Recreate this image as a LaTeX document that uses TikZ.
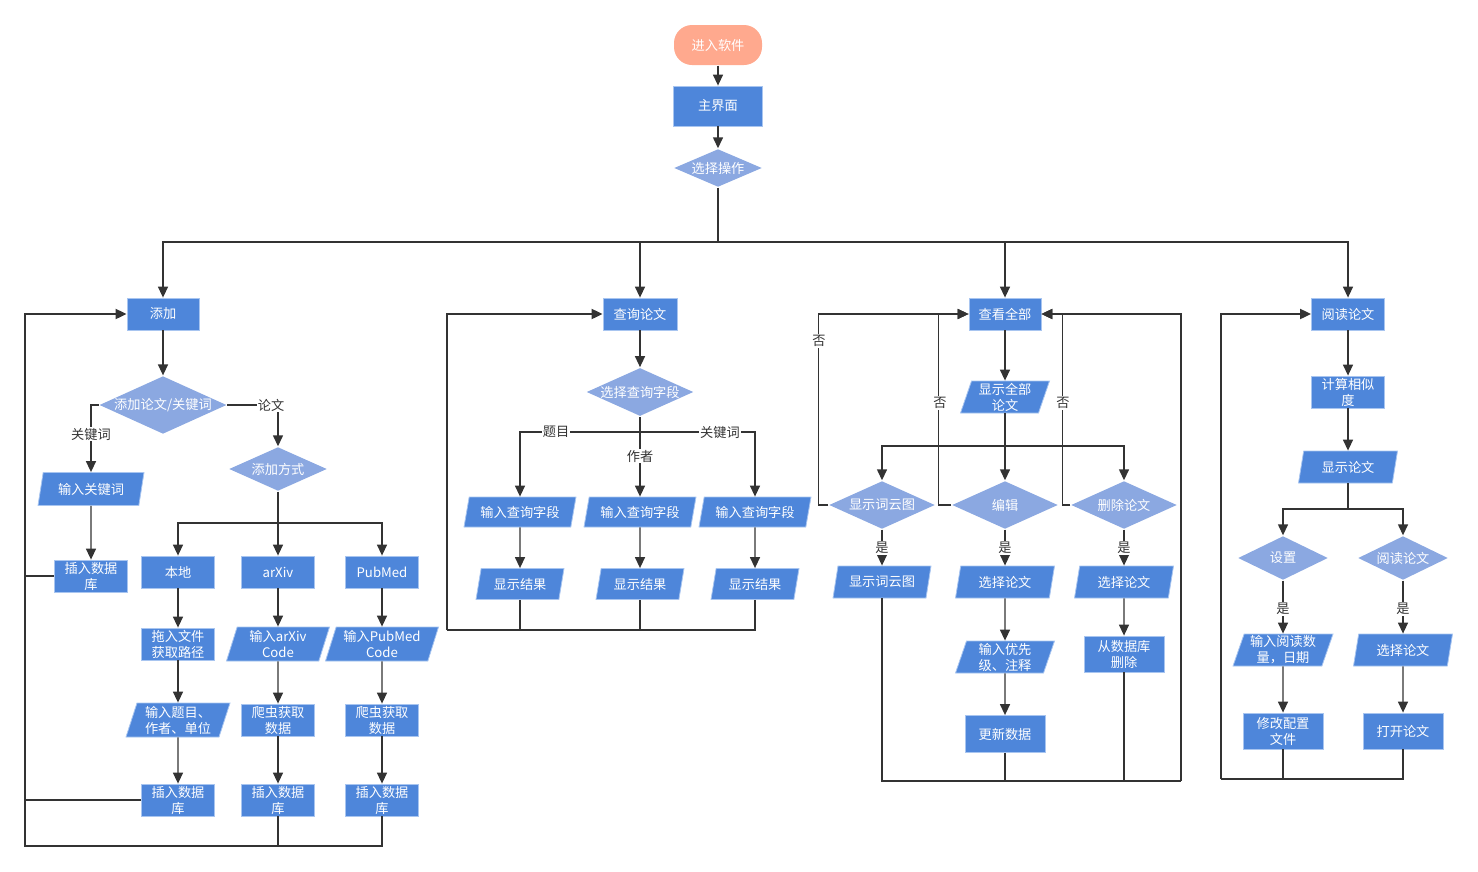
\documentclass[tikz,border=0pt]{standalone}
\usepackage{fontspec}
\setmainfont{Noto Sans CJK SC}
\usepackage{tikz}
\usetikzlibrary{shapes.geometric,arrows.meta}
\definecolor{boxblue}{HTML}{4E86DA}
\definecolor{diablue}{HTML}{8BA8E1}
\definecolor{startc}{HTML}{FFA98E}
\definecolor{edgeblue}{HTML}{A8C5F0}
\definecolor{linec}{HTML}{333333}

\begin{document}
\begin{tikzpicture}[x=1pt, y=-1pt,
    font=\fontsize{13.2}{16}\selectfont,
    every path/.style={draw=linec, line width=1.4pt},
    arr/.style={-{Triangle[length=11pt,width=10pt]}},
    loopline/.style={line width=1.9pt},
    box/.style={rectangle, fill=boxblue, draw=edgeblue, line width=0.8pt, text=white, align=center, inner sep=1pt, minimum width=73pt, minimum height=32pt},
    io/.style={trapezium, trapezium left angle=70, trapezium right angle=110, trapezium stretches body, fill=boxblue, draw=edgeblue, line width=0.8pt, text=white, align=center, inner sep=1pt, minimum width=99pt, minimum height=32pt},
    dec/.style={diamond, aspect=2.2, fill=diablue, draw=none, text=white, align=center, inner sep=0pt},
    lbl/.style={fill=white, draw=none, text=linec, inner sep=1pt}]
    \useasboundingbox [draw=none] (0,0) rectangle (1478,871);
    \node [rectangle, rounded corners=18pt, fill=startc, text=white, minimum width=88pt, minimum height=40pt] (start) at (718,45) {进入软件};
    \node [box, minimum width=89pt, minimum height=40pt] (mainui) at (718,106) {主界面};
    \node [dec, minimum width=88pt, minimum height=38pt] (op) at (718,168) {选择操作};
    \node [box, minimum width=72pt] (add) at (163,314) {添加};
    \node [dec, minimum width=126pt, minimum height=54pt] (adddia) at (163,405) {添加论文/关键词};
    \node [io, minimum width=106pt, minimum height=33pt] (inkw) at (91,489) {输入关键词};
    \node [box] (ins0) at (91,576) {插入数据\\库};
    \node [dec, minimum width=98pt, minimum height=44pt] (way) at (278,469) {添加方式};
    \node [box] (local) at (178,572) {本地};
    \node [box] (arxiv) at (278,572) {arXiv};
    \node [box] (pubmed) at (382,572) {PubMed};
    \node [box] (drag) at (178,644) {拖入文件\\获取路径};
    \node [io, minimum width=103pt, minimum height=34pt] (inarx) at (278,644) {输入arXiv\\Code};
    \node [io, minimum width=113pt, minimum height=34pt] (inpub) at (382,644) {输入PubMed\\Code};
    \node [io, minimum width=104pt, minimum height=34pt] (inmeta) at (178,720) {输入题目、\\作者、单位};
    \node [box] (crawl1) at (278,720) {爬虫获取\\数据};
    \node [box] (crawl2) at (382,720) {爬虫获取\\数据};
    \node [box] (ins1) at (178,800) {插入数据\\库};
    \node [box] (ins2) at (278,800) {插入数据\\库};
    \node [box] (ins3) at (382,800) {插入数据\\库};
    \node [box, minimum width=74pt] (query) at (640,314) {查询论文};
    \node [dec, minimum width=107pt, minimum height=48pt] (field) at (640,392) {选择查询字段};
    \node [io, minimum width=112pt, minimum height=30pt] (in1) at (520,512) {输入查询字段};
    \node [io, minimum width=112pt, minimum height=30pt] (in2) at (640,512) {输入查询字段};
    \node [io, minimum width=112pt, minimum height=30pt] (in3) at (755,512) {输入查询字段};
    \node [io, minimum width=88pt, minimum height=31pt] (res1) at (520,584) {显示结果};
    \node [io, minimum width=88pt, minimum height=31pt] (res2) at (640,584) {显示结果};
    \node [io, minimum width=88pt, minimum height=31pt] (res3) at (755,584) {显示结果};
    \node [box, minimum width=72pt] (viewall) at (1005,314) {查看全部};
    \node [io, minimum width=89pt] (showall) at (1005,397) {显示全部\\论文};
    \node [dec, minimum width=106pt, minimum height=48pt] (wc) at (882,505) {显示词云图};
    \node [dec, minimum width=106pt, minimum height=48pt] (edit) at (1005,505) {编辑};
    \node [dec, minimum width=106pt, minimum height=48pt] (del) at (1124,505) {删除论文};
    \node [io, minimum width=98pt] (wcshow) at (882,582) {显示词云图};
    \node [io] (sel1) at (1005,582) {选择论文};
    \node [io] (sel2) at (1124,582) {选择论文};
    \node [io] (prio) at (1005,657) {输入优先\\级、注释};
    \node [box, minimum width=80pt, minimum height=36pt] (delx) at (1124,654) {从数据库\\删除};
    \node [box, minimum width=80pt, minimum height=37pt] (upd) at (1005,734) {更新数据};
    \node [box] (readp) at (1348,314) {阅读论文};
    \node [box] (sim) at (1348,392) {计算相似\\度};
    \node [io] (showp) at (1348,467) {显示论文};
    \node [dec, minimum width=90pt, minimum height=44pt] (setd) at (1283,558) {设置};
    \node [dec, minimum width=90pt, minimum height=44pt] (readd) at (1403,558) {阅读论文};
    \node [io, minimum width=100pt] (inread) at (1283,650) {输入阅读数\\量，日期};
    \node [io] (sel3) at (1403,650) {选择论文};
    \node [box, minimum width=80pt, minimum height=36pt] (conf) at (1283,731) {修改配置\\文件};
    \node [box, minimum width=80pt, minimum height=36pt] (open) at (1403,731) {打开论文};
    \coordinate (b0) at (718,242);
    \coordinate (b1) at (278,523);
    \coordinate (b2) at (640,432);
    \coordinate (b3) at (1005,446);
    \coordinate (b4) at (1348,509);
    \coordinate (lb) at (25,846);
    \coordinate (mb) at (447,630);
    \coordinate (vb) at (1181,781);
    \coordinate (rb) at (1221,779);
    \draw [arr] (start) to (mainui);
    \draw [arr] (mainui) to (op);
    \draw (op) to (b0);
    \draw [arr] (b0) -| (add);
    \draw [arr] (b0) -| (query);
    \draw [arr] (b0) -| (viewall);
    \draw [arr] (b0) -| (readp);
    \draw [arr] (add) to (adddia);
    \draw [arr] (adddia.west) -| (inkw);
    \draw [arr] (adddia.east) -| (way);
    \draw [arr] (inkw) to (ins0);
    \draw (way) to (b1);
    \draw [arr] (b1) -| (local);
    \draw [arr] (b1) to (arxiv);
    \draw [arr] (b1) -| (pubmed);
    \draw [arr] (local) to (drag);
    \draw [arr] (drag) to (inmeta);
    \draw [arr] (inmeta) to (ins1);
    \draw [arr] (arxiv) to (inarx);
    \draw [arr] (inarx) to (crawl1);
    \draw [arr] (crawl1) to (ins2);
    \draw [arr] (pubmed) to (inpub);
    \draw [arr] (inpub) to (crawl2);
    \draw [arr] (crawl2) to (ins3);
    \draw [arr, loopline] (ins0.west) -| (add.west -| lb) -- (add.west);
    \draw [loopline] (ins1.west) -- (ins1.west -| lb);
    \draw [loopline] (ins3.south) |- (lb) -- (ins0.west -| lb);
    \draw (ins2.south) -- (ins2.south |- lb);
    \draw [arr] (query) to (field);
    \draw (field) to (b2);
    \draw [arr] (b2) -| (in1);
    \draw [arr] (b2) to (in2);
    \draw [arr] (b2) -| (in3);
    \draw [arr] (in1) to (res1);
    \draw [arr] (in2) to (res2);
    \draw [arr] (in3) to (res3);
    \draw [loopline] (res3.south) |- (mb);
    \draw [arr, loopline] (mb) |- (query.west);
    \draw (res1.south) -- (res1.south |- mb);
    \draw (res2.south) -- (res2.south |- mb);
    \draw [arr] (viewall) to (showall);
    \draw (showall) to (b3);
    \draw [arr] (b3) -| (wc);
    \draw [arr] (b3) to (edit);
    \draw [arr] (b3) -| (del);
    \draw [arr] (wc.west) -- ++(-10,0) |- (viewall.west);
    \draw [arr] (edit.west) -- ++(-13,0) |- (viewall.west);
    \draw [arr] (del.west) -- ++(-8,0) |- (viewall.east);
    \draw [arr] (wc) to (wcshow);
    \draw [arr] (edit) to (sel1);
    \draw [arr] (del) to (sel2);
    \draw [arr] (sel1) to (prio);
    \draw [arr] (prio) to (upd);
    \draw [arr] (sel2) to (delx);
    \draw [loopline] (wcshow.south) |- (vb);
    \draw [arr, loopline] (vb) |- (viewall.east);
    \draw (upd.south) -- (upd.south |- vb);
    \draw (delx.south) -- (delx.south |- vb);
    \draw [arr] (readp) to (sim);
    \draw [arr] (sim) to (showp);
    \draw (showp) to (b4);
    \draw [arr] (b4) -| (setd);
    \draw [arr] (b4) -| (readd);
    \draw [arr] (setd) to (inread);
    \draw [arr] (readd) to (sel3);
    \draw [arr] (inread) to (conf);
    \draw [arr] (sel3) to (open);
    \draw [loopline] (open.south) |- (rb);
    \draw [arr, loopline] (rb) |- (readp.west);
    \draw (conf.south) -- (conf.south |- rb);
    \node [lbl] (lkw) at (91,434) {关键词};
    \node [lbl] (lpaper) at (271,405) {论文};
    \node [lbl] (ltitle) at (556,432) {题目};
    \node [lbl] (lauthor) at (640,456) {作者};
    \node [lbl] (lkey) at (720,432) {关键词};
    \node [lbl] (lno1) at (819,341) {否};
    \node [lbl] (lno2) at (940,403) {否};
    \node [lbl] (lno3) at (1063,403) {否};
    \node [lbl] (lyes1) at (882,548) {是};
    \node [lbl] (lyes2) at (1005,548) {是};
    \node [lbl] (lyes3) at (1124,548) {是};
    \node [lbl] (lyes4) at (1283,609) {是};
    \node [lbl] (lyes5) at (1403,609) {是};
\end{tikzpicture}
\end{document}
